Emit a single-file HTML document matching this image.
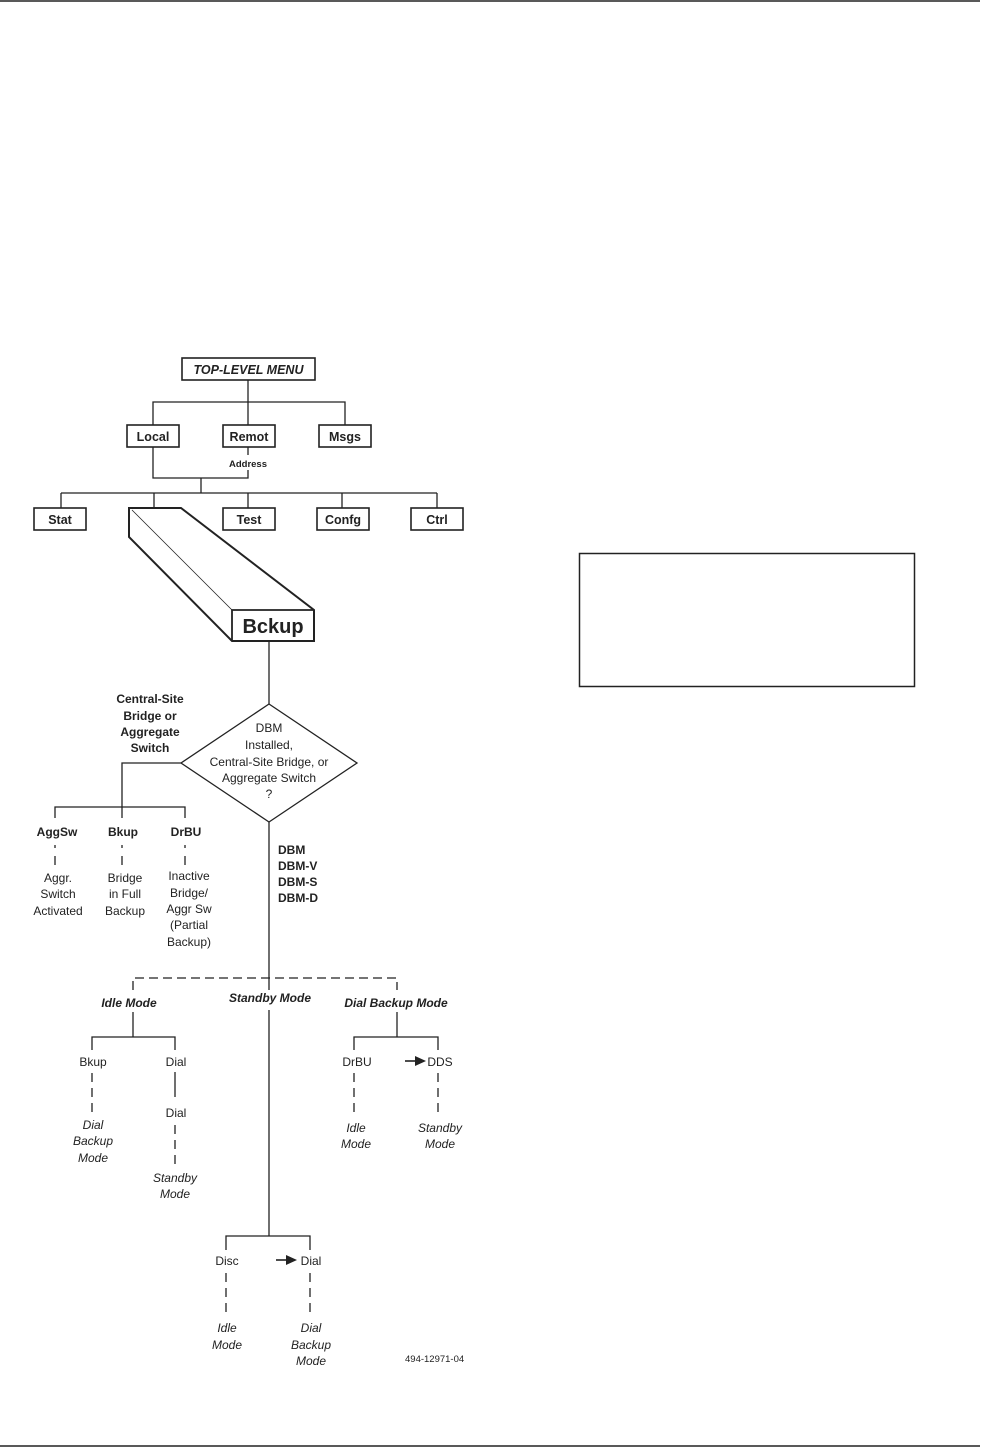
<!DOCTYPE html>
<html><head><meta charset="utf-8"><style>
html,body{margin:0;padding:0;background:#fff;}
svg{display:block;}
text{font-family:"Liberation Sans",Arial,sans-serif;fill:#222;}
.b{font-weight:bold;}
.bi{font-weight:bold;font-style:italic;}
.i{font-style:italic;}
</style></head><body>
<svg width="985" height="1447" viewBox="0 0 985 1447" xmlns="http://www.w3.org/2000/svg">
<g stroke="#222" fill="none" stroke-width="1.3">
<line x1="0" y1="1" x2="980" y2="1" stroke-width="1.5"/>
<line x1="0" y1="1446" x2="980" y2="1446" stroke-width="1.5"/>
<rect x="579.5" y="553.5" width="335" height="133" stroke-width="1.5"/>
<!-- top -->
<rect x="182" y="358" width="133" height="22" stroke-width="1.6"/>
<line x1="248" y1="380" x2="248" y2="425"/>
<polyline points="153,425 153,402 345,402 345,425"/>
<rect x="127" y="425" width="52" height="22" stroke-width="1.6"/>
<rect x="223" y="425" width="52" height="22" stroke-width="1.6"/>
<rect x="319" y="425" width="52" height="22" stroke-width="1.6"/>
<polyline points="153,447 153,478 248,478 248,470"/>
<line x1="248" y1="447" x2="248" y2="455"/>
<line x1="201" y1="478" x2="201" y2="493"/>
<line x1="61" y1="493" x2="437" y2="493"/>
<line x1="61" y1="493" x2="61" y2="508"/>
<line x1="154" y1="493" x2="154" y2="508"/>
<line x1="248" y1="493" x2="248" y2="508"/>
<line x1="342" y1="493" x2="342" y2="508"/>
<line x1="437" y1="493" x2="437" y2="508"/>
<rect x="34" y="508" width="52" height="22" stroke-width="1.6"/>
<rect x="223" y="508" width="52" height="22" stroke-width="1.6"/>
<rect x="317" y="508" width="52" height="22" stroke-width="1.6"/>
<rect x="411" y="508" width="52" height="22" stroke-width="1.6"/>
<!-- Bckup 3D -->
<polygon points="129,508 181,508 314,610 314,641 232,641 129,537" stroke-width="2"/>
<polyline points="232,641 232,610 314,610" stroke-width="1.8"/>
<line x1="132" y1="510" x2="232" y2="610" stroke-width="0.8"/>
<line x1="269" y1="641" x2="269" y2="704"/>
<!-- diamond -->
<polygon points="269,704 357,763 269,822 181,763"/>
<polyline points="181,763 122,763 122,807"/>
<polyline points="55,818 55,807 185,807 185,818"/>
<line x1="122" y1="807" x2="122" y2="818"/>
<line x1="55" y1="845" x2="55" y2="848"/><line x1="55" y1="856" x2="55" y2="865"/>
<line x1="122" y1="845" x2="122" y2="848"/><line x1="122" y1="856" x2="122" y2="865"/>
<line x1="185" y1="845" x2="185" y2="848"/><line x1="185" y1="856" x2="185" y2="865"/>
<line x1="269" y1="822" x2="269" y2="990"/>
<polyline points="133,990 133,978 397,978 397,990" stroke-dasharray="9,5"/>
<!-- idle -->
<line x1="133" y1="1012" x2="133" y2="1037"/>
<polyline points="92,1050 92,1037 175,1037 175,1050"/>
<line x1="92" y1="1073" x2="92" y2="1113" stroke-dasharray="9,6"/>
<line x1="175" y1="1072" x2="175" y2="1097"/>
<line x1="175" y1="1125" x2="175" y2="1165" stroke-dasharray="9,6"/>
<!-- standby -->
<line x1="269" y1="1010" x2="269" y2="1236"/>
<polyline points="226,1250 226,1236 310,1236 310,1250"/>
<line x1="226" y1="1273" x2="226" y2="1313" stroke-dasharray="9,6"/>
<line x1="310" y1="1273" x2="310" y2="1313" stroke-dasharray="9,6"/>
<line x1="276" y1="1260" x2="288" y2="1260" stroke-width="1.6"/>
<!-- dial backup -->
<line x1="397" y1="1012" x2="397" y2="1037"/>
<polyline points="354,1050 354,1037 438,1037 438,1050"/>
<line x1="354" y1="1073" x2="354" y2="1113" stroke-dasharray="9,6"/>
<line x1="438" y1="1073" x2="438" y2="1113" stroke-dasharray="9,6"/>
<line x1="405" y1="1061" x2="417" y2="1061" stroke-width="1.6"/>
</g>
<polygon points="286,1255 297,1260 286,1265" fill="#222"/>
<polygon points="415,1056 426,1061 415,1066" fill="#222"/>
<g text-anchor="middle">
<text x="248.5" y="374" class="bi" font-size="12.5">TOP-LEVEL MENU</text>
<text x="153" y="441" class="b" font-size="12.5">Local</text>
<text x="249" y="441" class="b" font-size="12.5">Remot</text>
<text x="345" y="441" class="b" font-size="12.5">Msgs</text>
<text x="248" y="467" class="b" font-size="9.5">Address</text>
<text x="60" y="524" class="b" font-size="12.5">Stat</text>
<text x="249" y="524" class="b" font-size="12.5">Test</text>
<text x="343" y="524" class="b" font-size="12.5">Confg</text>
<text x="437" y="524" class="b" font-size="12.5">Ctrl</text>
<text x="273" y="633" class="b" font-size="20">Bckup</text>
<g font-size="12">
<text x="269" y="732">DBM</text>
<text x="269" y="749">Installed,</text>
<text x="269" y="766">Central-Site Bridge, or</text>
<text x="269" y="782">Aggregate Switch</text>
<text x="269" y="798">?</text>
</g>
<g class="b" font-size="12">
<text x="150" y="703">Central-Site</text>
<text x="150" y="720">Bridge or</text>
<text x="150" y="736">Aggregate</text>
<text x="150" y="752">Switch</text>
<text x="57" y="836">AggSw</text>
<text x="123" y="836">Bkup</text>
<text x="186" y="836">DrBU</text>
</g>
<g font-size="12">
<text x="58" y="882">Aggr.</text><text x="58" y="898">Switch</text><text x="58" y="915">Activated</text>
<text x="125" y="882">Bridge</text><text x="125" y="898">in Full</text><text x="125" y="915">Backup</text>
<text x="189" y="880">Inactive</text><text x="189" y="897">Bridge/</text><text x="189" y="913">Aggr Sw</text><text x="189" y="929">(Partial</text><text x="189" y="946">Backup)</text>
</g>
<g class="bi" font-size="12">
<text x="129" y="1007">Idle Mode</text>
<text x="270" y="1002">Standby Mode</text>
<text x="396" y="1007">Dial Backup Mode</text>
</g>
<g font-size="12">
<text x="93" y="1066">Bkup</text>
<text x="176" y="1066">Dial</text>
<text x="176" y="1117">Dial</text>
<text x="357" y="1066">DrBU</text>
<text x="440" y="1066">DDS</text>
<text x="227" y="1265">Disc</text>
<text x="311" y="1265">Dial</text>
</g>
<g class="i" font-size="12">
<text x="93" y="1129">Dial</text><text x="93" y="1145">Backup</text><text x="93" y="1162">Mode</text>
<text x="175" y="1182">Standby</text><text x="175" y="1198">Mode</text>
<text x="356" y="1132">Idle</text><text x="356" y="1148">Mode</text>
<text x="440" y="1132">Standby</text><text x="440" y="1148">Mode</text>
<text x="227" y="1332">Idle</text><text x="227" y="1349">Mode</text>
<text x="311" y="1332">Dial</text><text x="311" y="1349">Backup</text><text x="311" y="1365">Mode</text>
</g>
</g>
<g class="b" font-size="12">
<text x="278" y="854">DBM</text>
<text x="278" y="870">DBM-V</text>
<text x="278" y="886">DBM-S</text>
<text x="278" y="902">DBM-D</text>
</g>
<text x="405" y="1362" font-size="9.5">494-12971-04</text>
</svg>
</body></html>
